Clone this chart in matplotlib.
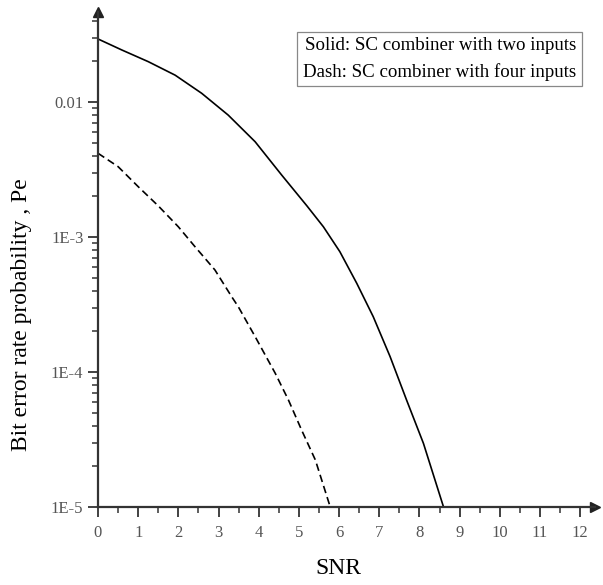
import numpy as np
import matplotlib
matplotlib.use('Agg')
import matplotlib.pyplot as plt
from matplotlib.ticker import FixedLocator, FixedFormatter, LogLocator, MultipleLocator

# values (SNR vs bit error probability)
snr_two = [0, 0.59, 1.25, 1.92, 2.58, 3.24, 3.91, 4.57, 5.20, 5.61, 6.02,
           6.44, 6.85, 7.27, 7.68, 8.10, 8.6]
pe_two = [0.0293, 0.0243, 0.0199, 0.0158, 0.0116, 0.0080, 0.00508, 0.00288,
          1.70e-3, 1.19e-3, 7.78e-4, 4.54e-4, 2.57e-4, 1.30e-4, 6.2e-5,
          2.96e-5, 1.0e-5]

snr_four = [0, 0.5, 1.0, 1.5, 2.0, 2.41, 2.91, 3.33, 3.49, 3.91, 4.41,
            4.74, 5.07, 5.41, 5.78]
pe_four = [4.17e-3, 3.32e-3, 2.36e-3, 1.70e-3, 1.19e-3, 8.5e-4, 5.7e-4,
           3.6e-4, 3.05e-4, 1.83e-4, 9.8e-5, 6.2e-5, 3.7e-5, 2.23e-5, 1.0e-5]

ytick_vals = [1e-5, 1e-4, 1e-3, 1e-2]
ytick_labels = ['1E-5', '1E-4', '1E-3', '0.01']
xtick_vals = list(range(0, 13))

plt.rcParams['font.family'] = ['Liberation Serif', 'DejaVu Serif']

fig = plt.figure(figsize=(6.03, 5.85), dpi=100)
ax = fig.add_axes([98/603, 78/585, 497/603, 495/585])

ax.plot(snr_two, pe_two, color='black', lw=1.2)
ax.plot(snr_four, pe_four, color='black', lw=1.2, dashes=(4.5, 2.5))

ax.set_yscale('log')
ax.set_xlim(0, 12.37)
ax.set_ylim(1e-5, 0.0464)

ax.xaxis.set_major_locator(FixedLocator(xtick_vals))
ax.xaxis.set_minor_locator(MultipleLocator(0.5))
ax.yaxis.set_major_locator(FixedLocator(ytick_vals))
ax.yaxis.set_major_formatter(FixedFormatter(ytick_labels))
ax.yaxis.set_minor_locator(LogLocator(base=10, subs=np.arange(2, 10)))
ax.yaxis.set_minor_formatter(FixedFormatter([]))

for s in ['top', 'right']:
    ax.spines[s].set_visible(False)
for s in ['left', 'bottom']:
    ax.spines[s].set_linewidth(1.6)
    ax.spines[s].set_color('#333333')

ax.tick_params(which='major', direction='out', length=7, width=1.3, labelsize=12, colors='#333333', labelcolor='#555555')
ax.tick_params(which='minor', direction='out', length=4, width=1.1, colors='#333333')
ax.tick_params(axis='x', pad=6)

# axis arrows
ax.plot(1, 0, '>', color='#222222', ms=7, transform=ax.transAxes, clip_on=False)
ax.plot(0, 1, '^', color='#222222', ms=7, transform=ax.transAxes, clip_on=False)

ax.set_xlabel('SNR', fontsize=17)
ax.xaxis.set_label_coords(0.483, -0.104)
ax.set_ylabel('Bit error rate probability , Pe', fontsize=17)
ax.yaxis.set_label_coords(-0.133, 0.388)

ax.text(0.962, 0.949, 'Solid: SC combiner with two inputs\nDash: SC combiner with four inputs',
        transform=ax.transAxes, ha='right', va='top', fontsize=13.6, linespacing=1.62,
        bbox=dict(boxstyle='square,pad=0.3', fc='white', ec='#888888', lw=0.9))

fig.savefig('out.png', dpi=100)
